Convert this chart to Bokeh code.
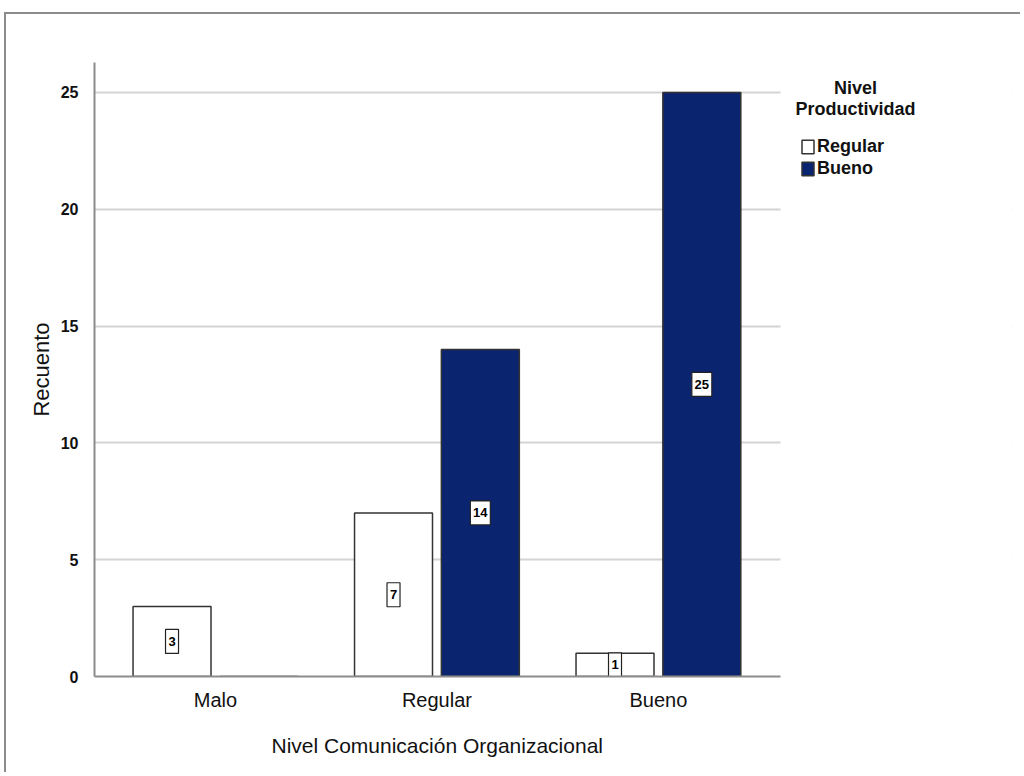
from bokeh.plotting import figure
from bokeh.models import (ColumnDataSource, Range1d, FixedTicker, Legend, LegendItem, Label,
                          BoxAnnotation, Title)
from bokeh.core.properties import value
from bokeh.embed import file_html
from bokeh.resources import INLINE

categories = ["Malo", "Regular", "Bueno"]
series_names = ["Regular", "Bueno"]
legend_title = ["Nivel", "Productividad"]
regular_counts = [3, 7, 1]
bueno_counts = [0, 14, 25]
y_ticks = [0, 5, 10, 15, 20, 25]

BLUE = "#0b2470"
OFFSET = 0.196
BAR_W = 0.352
FONT = "Liberation Sans"
X0, X1 = 0.454, 3.551   # extent of the plotting area (axis/grid)

xpos = [i + 1 for i in range(len(categories))]

p = figure(width=1016, height=760, output_backend="svg", toolbar_location=None,
           x_range=Range1d(X0, 4.5986), y_range=Range1d(0, 26.28),
           min_border_left=88, min_border_top=48, min_border_bottom=20,
           min_border_right=10, outline_line_color=None)
p.styles = {"border-top": "2px solid #8c8c8c", "border-left": "2px solid #8c8c8c",
            "margin-left": "4px", "margin-top": "12px"}

src_r = ColumnDataSource(dict(x=[x - OFFSET for x in xpos], top=regular_counts))
src_b = ColumnDataSource(dict(x=[x + OFFSET for x in xpos], top=bueno_counts))

r1 = p.vbar(x="x", top="top", width=BAR_W, source=src_r, fill_color="white",
            line_color="#333333", line_width=1.5)
r2 = p.vbar(x="x", top="top", width=BAR_W, source=src_b, fill_color=BLUE,
            line_color="#333333", line_width=1.5)

# value labels in small boxes at half bar height
lx, ly, lt, lw = [], [], [], []
for off, vals in ((-OFFSET, regular_counts), (OFFSET, bueno_counts)):
    for x, v in zip(xpos, vals):
        if v > 0:
            lx.append(x + off); ly.append(v / 2); lt.append(str(v))
            lw.append(6 + 7 * len(str(v)))
lab_src = ColumnDataSource(dict(x=lx, y=ly, t=lt, w=lw))
p.rect(x="x", y="y", width="w", height=24, width_units="screen", height_units="screen",
       source=lab_src, fill_color="white", line_color="#222222", line_width=1.2)
p.text(x="x", y="y", text="t", source=lab_src, text_align="center",
       text_baseline="middle", text_font=value(FONT), text_font_style="bold",
       text_font_size="13px", text_color="black")

# axes
p.xaxis.ticker = FixedTicker(ticks=xpos)
p.xaxis.major_label_overrides = {x: c for x, c in zip(xpos, categories)}
p.xaxis.bounds = (X0, X1)
p.yaxis.ticker = FixedTicker(ticks=y_ticks)
for ax in (p.xaxis, p.yaxis):
    ax.axis_line_color = "#8c8c8c"
    ax.axis_line_width = 2
    ax.major_tick_line_color = None
    ax.minor_tick_line_color = None
    ax.major_label_text_font = FONT
    ax.major_label_text_color = "#111111"
    ax.axis_label_text_font = FONT
    ax.axis_label_text_font_style = "normal"
    ax.axis_label_text_color = "#111111"
p.yaxis.major_label_text_font_size = "16px"
p.yaxis.major_label_text_font_style = "bold"
p.yaxis.major_label_standoff = 10
p.xaxis.major_label_text_font_size = "20px"
p.xaxis.major_label_standoff = 6
p.yaxis.axis_label = "Recuento"
p.yaxis.axis_label_text_font_size = "22px"
p.yaxis.axis_label_standoff = 4

# x-axis title, centred under the bar area rather than the whole frame
p.add_layout(Title(text="Nivel Comunicación Organizacional", align="left", offset=177,
                   text_font=FONT, text_font_style="normal", text_font_size="21px",
                   text_color="#111111", standoff=36), "below")

p.xgrid.grid_line_color = None
p.ygrid.ticker = FixedTicker(ticks=y_ticks[1:])
p.ygrid.grid_line_color = "#d4d4d4"
p.ygrid.grid_line_width = 2
# hide grid lines to the right of the bar area (legend zone)
p.add_layout(BoxAnnotation(left=X1, fill_color="white", fill_alpha=1, line_color=None,
                           level="underlay"))

legend = Legend(items=[LegendItem(label=series_names[0], renderers=[r1]),
                       LegendItem(label=series_names[1], renderers=[r2])],
                location=(706, 497),
                label_text_font=FONT, label_text_font_style="bold",
                label_text_font_size="18px", label_text_color="#111111",
                glyph_width=15, glyph_height=17, label_standoff=2, spacing=1,
                label_height=17, border_line_color=None, background_fill_color=None,
                margin=0, padding=2)
p.add_layout(legend)

for txt, yy in zip(legend_title, (25.17, 24.31)):
    p.add_layout(Label(x=3.89, y=yy, text=txt, text_align="center", text_baseline="middle",
                       text_font=FONT, text_font_style="bold", text_font_size="18px",
                       text_color="#111111"))

open("out.html", "w").write(file_html(p, INLINE))
